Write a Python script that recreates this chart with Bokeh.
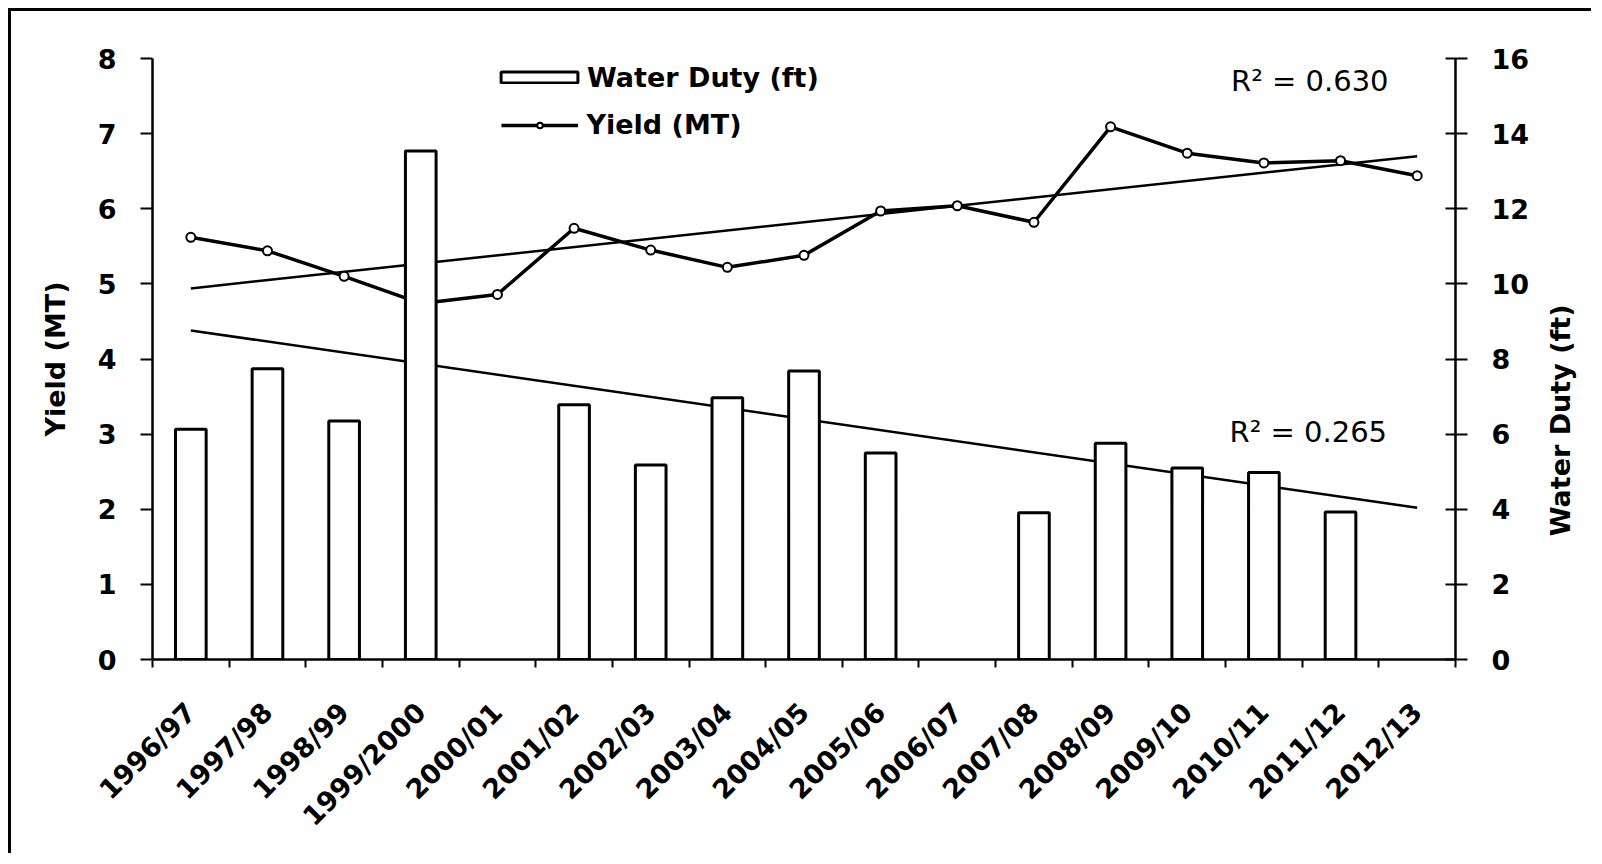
import numpy as np
from math import pi
from bokeh.plotting import figure
from bokeh.models import (Range1d, LinearAxis, FixedTicker, ColumnDataSource,
                          Legend, LegendItem, Label)
from bokeh.embed import file_html
from bokeh.resources import INLINE

# ---------------- data ----------------
seasons = ["1996/97", "1997/98", "1998/99", "1999/2000", "2000/01", "2001/02",
           "2002/03", "2003/04", "2004/05", "2005/06", "2006/07", "2007/08",
           "2008/09", "2009/10", "2010/11", "2011/12", "2012/13"]
yield_mt = [5.62, 5.44, 5.10, 4.74, 4.86, 5.74, 5.45, 5.22, 5.38, 5.97,
            6.04, 5.82, 7.09, 6.74, 6.61, 6.64, 6.44]
water_duty_ft = [6.13, 7.74, 6.35, 13.54, None, 6.78, 5.18, 6.97, 7.68, 5.50,
                 None, 3.91, 5.76, 5.10, 4.98, 3.93, None]
yield_trend = [4.94, 6.70]      # linear trend, first and last season
water_trend = [8.76, 4.04]      # linear trend, first and last season
r2_yield = "R\u00b2 = 0.630"
r2_water = "R\u00b2 = 0.265"
water_title = "Water Duty (ft)"
water_title_start = 3.28        # right-axis value where the title text begins

FONT = "DejaVu Sans"
FS = "27px"

x_pos = list(range(1, len(seasons) + 1))
bar_src = ColumnDataSource(dict(
    x=[x for x, w in zip(x_pos, water_duty_ft) if w is not None],
    top=[w for w in water_duty_ft if w is not None]))
line_src = ColumnDataSource(dict(x=x_pos, y=yield_mt))

p = figure(width=1583, height=845, x_range=Range1d(0.5, len(seasons) + 0.5),
           y_range=Range1d(0, 8), output_backend="svg", toolbar_location=None,
           min_border_left=141, min_border_right=134, min_border_top=47,
           min_border_bottom=197, outline_line_color=None,
           styles={"margin-left": "8px", "margin-top": "8px",
                   "border-top": "3px solid black", "border-left": "3px solid black"})
p.xgrid.visible = False
p.ygrid.visible = False
p.extra_y_ranges = {"water": Range1d(0, 16)}

# x axis
xa = p.xaxis[0]
xa.ticker = FixedTicker(ticks=x_pos, minor_ticks=[i + 0.5 for i in range(0, len(seasons) + 1)])
xa.major_label_overrides = {i: s for i, s in zip(x_pos, seasons)}
xa.major_label_orientation = pi / 4
xa.major_tick_out = 0
xa.major_tick_in = 0
xa.minor_tick_out = 8
xa.minor_tick_in = 0
xa.minor_tick_line_width = 2
xa.axis_line_width = 2.5
xa.major_label_standoff = 40
xa.major_label_text_font = FONT
xa.major_label_text_font_size = FS
xa.major_label_text_font_style = "bold"
xa.major_label_text_color = "black"

# left y axis
ya = p.yaxis[0]
ya.ticker = FixedTicker(ticks=list(range(0, 9)))
ya.major_tick_out = 12
ya.major_tick_in = 0
ya.minor_tick_out = 0
ya.minor_tick_in = 0
ya.axis_line_width = 2.5
ya.major_tick_line_width = 2
ya.major_label_standoff = 24
ya.major_label_text_font = FONT
ya.major_label_text_font_size = FS
ya.major_label_text_font_style = "bold"
ya.major_label_text_color = "black"

# right y axis
ra = LinearAxis(y_range_name="water", ticker=FixedTicker(ticks=list(range(0, 17, 2))))
ra.major_tick_out = 12
ra.major_tick_in = 10
ra.minor_tick_out = 0
ra.minor_tick_in = 0
ra.axis_line_width = 2.5
ra.major_tick_line_width = 2
ra.major_label_standoff = 24
ra.major_label_text_font = FONT
ra.major_label_text_font_size = FS
ra.major_label_text_font_style = "bold"
ra.major_label_text_color = "black"
p.add_layout(ra, "right")

# left axis title
lt = LinearAxis(ticker=FixedTicker(ticks=[]), axis_label="Yield (MT)",
                axis_line_color=None, major_tick_line_color=None,
                minor_tick_line_color=None, major_tick_out=0, major_tick_in=0,
                minor_tick_out=0, minor_tick_in=0, axis_label_standoff=24,
                axis_label_text_font=FONT, axis_label_text_font_size=FS,
                axis_label_text_font_style="bold", axis_label_text_color="black")
p.add_layout(lt, "left")

# right axis title (reads bottom-to-top as in the original)
rt = LinearAxis(y_range_name="water", ticker=FixedTicker(ticks=[water_title_start]),
                major_label_overrides={water_title_start: water_title},
                major_label_orientation=pi / 2, major_label_standoff=28,
                axis_line_color=None, major_tick_line_color=None,
                minor_tick_line_color=None, major_tick_out=0, major_tick_in=0,
                minor_tick_out=0, minor_tick_in=0,
                major_label_text_font=FONT, major_label_text_font_size=FS,
                major_label_text_font_style="bold", major_label_text_color="black")
p.add_layout(rt, "right")

# trend lines
ends = [x_pos[0], x_pos[-1]]
p.line(ends, yield_trend, line_color="black", line_width=2.5)
p.line(ends, water_trend, line_color="black", line_width=2.5, y_range_name="water")

# yield line
yl = p.line("x", "y", source=line_src, line_color="black", line_width=3.5)
ym = p.scatter("x", "y", source=line_src, size=9, marker="circle",
               fill_color="white", line_color="black", line_width=2)

# water duty bars (drawn on top)
bars = p.vbar(x="x", top="top", width=0.40, source=bar_src, y_range_name="water",
              fill_color="white", line_color="black", line_width=3)

common = dict(padding=0, margin=0, border_line_color=None, background_fill_alpha=0,
              label_text_font=FONT, label_text_font_size=FS, label_text_color="black",
              label_text_font_style="bold", label_height=32)
leg1 = Legend(items=[LegendItem(label="Water Duty (ft)", renderers=[bars])],
              location=(339, 566), glyph_width=96, glyph_height=14,
              label_standoff=0, **common)
leg2 = Legend(items=[LegendItem(label="Yield (MT)", renderers=[yl, ym])],
              location=(348.5, 518.5), glyph_width=77, glyph_height=14,
              label_standoff=9, **common)
p.add_layout(leg1)
p.add_layout(leg2)

p.add_layout(Label(x=1078.5, y=579, x_units="screen", y_units="screen", text=r2_yield,
                   text_align="left", text_baseline="middle", text_color="black",
                   text_font=FONT, text_font_size="29px"))
p.add_layout(Label(x=1077, y=228, x_units="screen", y_units="screen", text=r2_water,
                   text_align="left", text_baseline="middle", text_color="black",
                   text_font=FONT, text_font_size="29px"))

open("out.html", "w").write(file_html(p, INLINE))
